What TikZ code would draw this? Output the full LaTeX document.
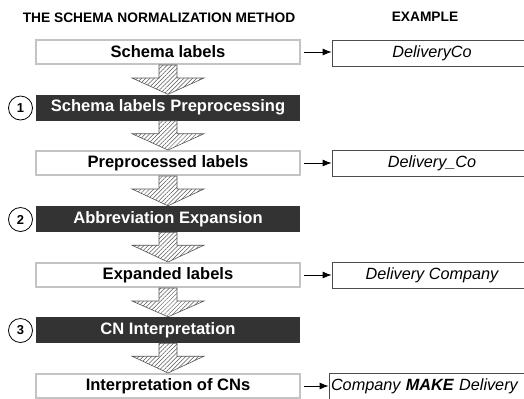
\documentclass[tikz,border=0pt]{standalone}
\usepackage{fontspec}
\setmainfont{Liberation Sans}
\usetikzlibrary{patterns.meta,arrows.meta}

\definecolor{darkbox}{HTML}{333333}
\definecolor{lightedge}{HTML}{C4C4C4}
\definecolor{hatchgray}{HTML}{555555}

\tikzset{
  labelbox/.style={draw=lightedge, line width=2bp, fill=white, minimum width=264bp, minimum height=24bp,
    inner sep=0pt, font=\fontsize{16.6}{18}\selectfont\bfseries},
  procbox/.style={fill=darkbox, minimum width=264bp, minimum height=26bp, inner sep=0pt,
    text=white, font=\fontsize{16.6}{18}\selectfont\bfseries},
  examplebox/.style={draw=black!70, line width=0.8bp, fill=white, minimum width=200bp, minimum height=26bp,
    inner sep=0pt, font=\fontsize{16.3}{18}\selectfont\itshape},
  stepnum/.style={draw=black, line width=0.8bp, circle, minimum size=24bp, inner sep=0pt,
    font=\fontsize{13}{15}\selectfont\bfseries},
  hatcharrow/.style={draw=hatchgray, line width=0.6bp,
    pattern={Lines[angle=45,distance=3bp,line width=0.5bp]}, pattern color=hatchgray},
  smallarrow/.style={-{Latex[length=9bp,width=7bp]}, line width=0.8bp},
  heading/.style={font=\fontsize{13.8}{15}\selectfont\bfseries}
}

\newcommand\hatchdown[2]{%
  \path[hatcharrow] ([xshift=-9bp]#1.south) -- ([xshift=-9bp,yshift=-13bp]#1.south)
    -- ([xshift=-36bp,yshift=-13bp]#1.south) -- (#2.north)
    -- ([xshift=36bp,yshift=-13bp]#1.south) -- ([xshift=9bp,yshift=-13bp]#1.south)
    -- ([xshift=9bp]#1.south) -- cycle;}

\begin{document}
\begin{tikzpicture}[x=1bp,y=-1bp]
\useasboundingbox (0,0) rectangle (524,398);
\clip (0,0) rectangle (524,398);

\node[heading] (title) at (159,18) {THE SCHEMA NORMALIZATION METHOD};
\node[heading] (extitle) at (425,17) {EXAMPLE};

% method column
\node[labelbox] (lbl1) at (168,52) {Schema labels};
\node[procbox] (proc1) at (168,107.5) {Schema labels Preprocessing};
\node[labelbox] (lbl2) at (168,163) {Preprocessed labels};
\node[procbox] (proc2) at (168,219) {Abbreviation Expansion};
\node[labelbox] (lbl3) at (168,275) {Expanded labels};
\node[procbox] (proc3) at (168,330) {CN Interpretation};
\node[labelbox] (lbl4) at (168,386) {Interpretation of CNs};

\node[stepnum] (num1) at (20.5,108) {1};
\node[stepnum] (num2) at (20.5,219.5) {2};
\node[stepnum] (num3) at (20.5,330.5) {3};

\hatchdown{lbl1}{proc1}
\hatchdown{proc1}{lbl2}
\hatchdown{lbl2}{proc2}
\hatchdown{proc2}{lbl3}
\hatchdown{lbl3}{proc3}
\hatchdown{proc3}{lbl4}

% example column
\node[examplebox] (ex1) at (432,53) {DeliveryCo};
\node[examplebox] (ex2) at (432,163.5) {Delivery\_Co};
\node[examplebox] (ex3) at (432,275.5) {Delivery Company};
\node[examplebox, minimum width=202bp, text width=200bp, align=left] (ex4) at (430,386)
  {\hspace{1bp}Company \textbf{MAKE} Delivery};

\draw[smallarrow] (lbl1.east) ++(3,0) -- (ex1.west |- lbl1.east);
\draw[smallarrow] (lbl2.east) ++(3,0) -- (ex2.west |- lbl2.east);
\draw[smallarrow] (lbl3.east) ++(3,0) -- (ex3.west |- lbl3.east);
\draw[smallarrow] (lbl4.east) ++(3,0) -- (ex4.west |- lbl4.east);
\end{tikzpicture}
\end{document}
